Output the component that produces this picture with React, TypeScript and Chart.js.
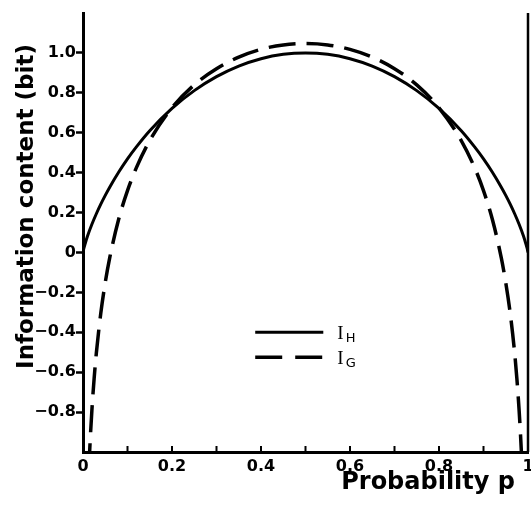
import React, { useEffect, useRef } from 'react';
import { Chart, registerables } from 'chart.js';

Chart.register(...registerables);

// Solid curve I_H (Shannon information)
const hP = [0, 0.002, 0.005, 0.01, 0.02, 0.03, 0.04, 0.05, 0.06, 0.08, 0.1, 0.12, 0.15, 0.2, 0.25, 0.3, 0.35, 0.4, 0.45, 0.5,
  0.55, 0.6, 0.65, 0.7, 0.75, 0.8, 0.85, 0.88, 0.9, 0.92, 0.94, 0.95, 0.96, 0.97, 0.98, 0.99, 0.995, 0.998, 1];
const hValues = [0, 0.021, 0.045, 0.081, 0.141, 0.194, 0.242, 0.286, 0.327, 0.402, 0.469, 0.529, 0.61, 0.722, 0.811, 0.881, 0.934, 0.971, 0.993, 1.0,
  0.993, 0.971, 0.934, 0.881, 0.811, 0.722, 0.61, 0.529, 0.469, 0.402, 0.327, 0.286, 0.242, 0.194, 0.141, 0.081, 0.045, 0.021, 0];

// Dashed curve I_G (Gaussian approximation)
const gP = [0.01, 0.012, 0.015, 0.02, 0.025, 0.03, 0.04, 0.05, 0.06, 0.08, 0.1, 0.12, 0.15, 0.2, 0.25, 0.3, 0.35, 0.4, 0.45, 0.5,
  0.55, 0.6, 0.65, 0.7, 0.75, 0.8, 0.85, 0.88, 0.9, 0.92, 0.94, 0.95, 0.96, 0.97, 0.975, 0.98, 0.985, 0.988, 0.99];
const gValues = [-1.282, -1.152, -0.993, -0.79, -0.632, -0.504, -0.304, -0.151, -0.027, 0.165, 0.31, 0.425, 0.561, 0.725, 0.84, 0.921, 0.979, 1.018, 1.04, 1.047,
  1.04, 1.018, 0.979, 0.921, 0.84, 0.725, 0.561, 0.425, 0.31, 0.165, -0.027, -0.151, -0.304, -0.504, -0.632, -0.79, -0.993, -1.152, -1.282];

const xTickLabels = ['0', '0.2', '0.4', '0.6', '0.8', '1'];
const yTickLabels = ['−0.8', '−0.6', '−0.4', '−0.2', '0', '0.2', '0.4', '0.6', '0.8', '1.0'];
const xMinorTicks = [0.1, 0.2, 0.3, 0.4, 0.5, 0.6, 0.7, 0.8, 0.9];
const seriesNames = ['H', 'G'];
const xTitle = 'Probability p';
const yTitle = 'Information content (bit)';

const FONT = '"DejaVu Sans", sans-serif';

const decorPlugin = {
  id: 'decor',
  afterDraw(chart: any) {
    const { ctx, chartArea, scales } = chart;
    const xs = scales.x;
    const ys = scales.y;
    ctx.save();
    ctx.strokeStyle = '#000';
    ctx.fillStyle = '#000';
    // right frame line at p = 1
    ctx.lineWidth = 2.5;
    ctx.beginPath();
    const rx = xs.getPixelForValue(1);
    ctx.moveTo(rx, chartArea.top);
    ctx.lineTo(rx, chartArea.bottom);
    ctx.stroke();
    // inward ticks on x axis
    ctx.lineWidth = 2;
    ctx.beginPath();
    for (const v of xMinorTicks) {
      const px = xs.getPixelForValue(v);
      ctx.moveTo(px, chartArea.bottom);
      ctx.lineTo(px, chartArea.bottom - 6);
    }
    ctx.stroke();

    // axis titles
    ctx.font = `bold 24px ${FONT}`;
    ctx.textAlign = 'right';
    ctx.textBaseline = 'alphabetic';
    ctx.fillText(xTitle, chartArea.right - 13, chartArea.bottom + 37);
    ctx.font = `bold 23px ${FONT}`;
    ctx.save();
    ctx.translate(33, (chartArea.top + chartArea.bottom) / 2 - 26);
    ctx.rotate(-Math.PI / 2);
    ctx.textAlign = 'center';
    ctx.fillText(yTitle, 0, 0);
    ctx.restore();

    // legend
    const lx0 = xs.getPixelForValue(0.387);
    const lx1 = xs.getPixelForValue(0.54);
    const rows = [ys.getPixelForValue(-0.40), ys.getPixelForValue(-0.525)];
    rows.forEach((yy: number, i: number) => {
      ctx.beginPath();
      ctx.lineWidth = i === 0 ? 3 : 3.5;
      ctx.setLineDash(i === 0 ? [] : [27, 13]);
      ctx.moveTo(lx0, yy);
      ctx.lineTo(lx1, yy);
      ctx.stroke();
      ctx.setLineDash([]);
      ctx.textAlign = 'left';
      ctx.textBaseline = 'alphabetic';
      ctx.font = `19px "Liberation Serif", serif`;
      const tx = lx1 + 14;
      ctx.fillText('I', tx, yy + 7);
      const iw = ctx.measureText('I').width;
      ctx.font = `13px ${FONT}`;
      ctx.fillText(seriesNames[i], tx + iw + 2, yy + 10);
    });
    ctx.restore();
  },
};

export default function App() {
  const ref = useRef<HTMLCanvasElement | null>(null);
  useEffect(() => {
    if (!ref.current) return;
    const chart = new Chart(ref.current, {
      type: 'line',
      data: {
        datasets: [
          {
            label: 'I_H',
            data: hP.map((p, i) => ({ x: p, y: hValues[i] })),
            borderColor: '#000',
            borderWidth: 3,
            pointRadius: 0,
            fill: false,
            cubicInterpolationMode: 'monotone',
          },
          {
            label: 'I_G',
            data: gP.map((p, i) => ({ x: p, y: gValues[i] })),
            borderColor: '#000',
            borderWidth: 3.5,
            borderDash: [27, 11],
            pointRadius: 0,
            fill: false,
            cubicInterpolationMode: 'monotone',
          },
        ],
      },
      options: {
        responsive: false,
        animation: false,
        devicePixelRatio: 1,
        layout: { padding: { top: 13, right: 3, left: 0, bottom: 0 } },
        plugins: { legend: { display: false }, tooltip: { enabled: false } },
        scales: {
          x: {
            type: 'linear',
            min: 0,
            max: 1,
            grid: { display: false },
            border: { display: true, color: '#000', width: 3 },
            ticks: {
              stepSize: 0.2,
              color: '#000',
              padding: -3,
              maxRotation: 0,
              font: { family: FONT, weight: 'bold', size: 16 },
              callback: (v: any) => {
                const idx = Math.round(Number(v) / 0.2);
                return xTickLabels[idx] ?? '';
              },
            },
            afterFit: (s: any) => {
              s.height = 54;
              s.paddingLeft = 0;
              s.paddingRight = 0;
            },
          },
          y: {
            type: 'linear',
            min: -1,
            max: 1.2,
            grid: {
              display: true,
              drawOnChartArea: false,
              drawTicks: true,
              tickLength: 7,
              tickWidth: 2.5,
              tickColor: '#000',
            },
            border: { display: true, color: '#000', width: 3 },
            ticks: {
              stepSize: 0.2,
              color: '#000',
              padding: 0,
              font: { family: FONT, weight: 'bold', size: 16 },
              callback: (v: any) => {
                const idx = Math.round((Number(v) + 0.8) / 0.2);
                return yTickLabels[idx] ?? '';
              },
            },
            afterBuildTicks: (s: any) => {
              s.ticks = s.ticks.filter((t: any) => t.value > -0.99 && t.value < 1.19);
            },
            afterFit: (s: any) => {
              s.width = 83;
              s.paddingTop = 0;
              s.paddingBottom = 0;
            },
          },
        },
      },
      plugins: [decorPlugin],
    } as any);
    return () => chart.destroy();
  }, []);
  return (
    <div style={{ position: 'absolute', left: 0, top: 0, width: 531, height: 506, background: '#fff' }}>
      <canvas ref={ref} width={531} height={506} />
    </div>
  );
}
